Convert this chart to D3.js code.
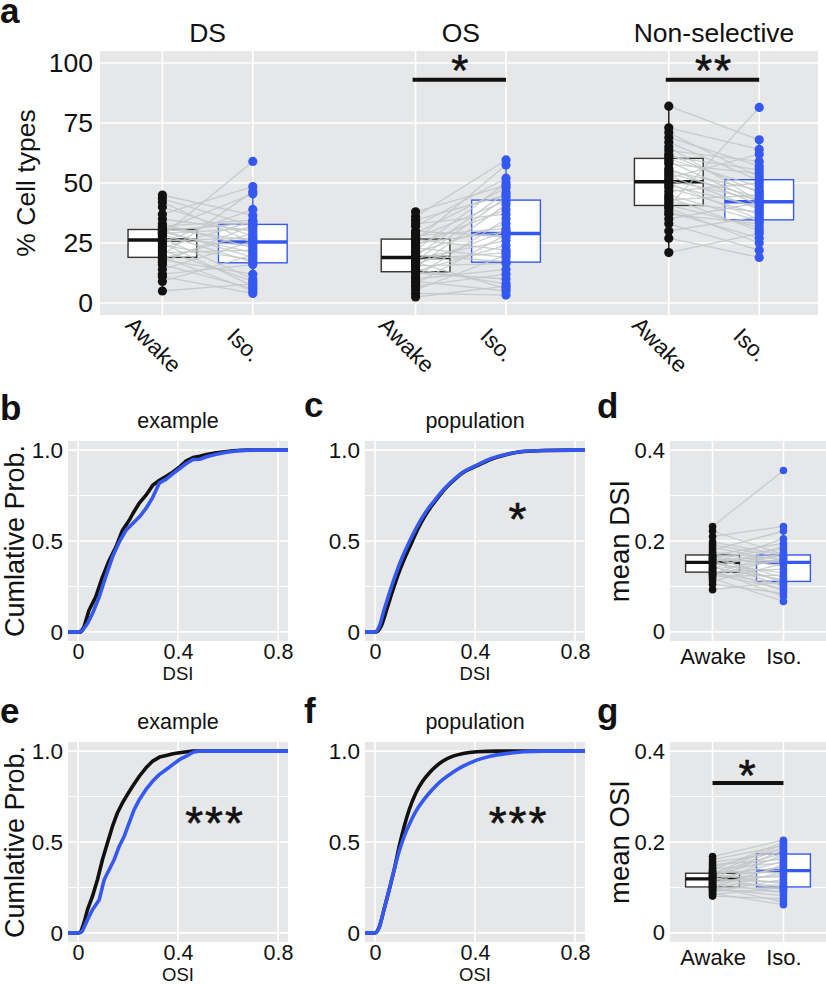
<!DOCTYPE html>
<html><head><meta charset="utf-8">
<script src="https://cdn.jsdelivr.net/npm/d3@7"></script>
<style>
body{margin:0;background:#fff}
text{font-family:"Liberation Sans",Arial,Helvetica,sans-serif;fill:#111}
</style>
</head><body>
<svg id="c" width="826" height="984"></svg>
<script>
// ---------------- DATA ----------------
const facets = ["DS", "OS", "Non-selective"];
const conditions = ["Awake", "Iso."];
const pctTicks = [0, 25, 50, 75, 100];
// % cell types per session (paired Awake / Iso.)
const dsAwake = [5, 9, 11, 12, 14, 16, 17, 18, 18.5, 19.2, 20, 21, 22, 23, 24, 25, 25.5, 26, 26.5, 27, 28, 28.5, 29, 29.5, 30, 30.3, 30.5, 31, 32, 33, 35, 37, 40, 42, 43.5, 45];
const dsIso   = [8, 20, 4, 16, 25.8, 6, 32.5, 12, 29, 5, 46.5, 22, 9, 34, 18, 7, 39, 27, 24, 10, 59, 17, 31, 21, 33.5, 19, 45.5, 26, 34.5, 23, 30, 48.5, 28, 25, 32, 36.5];
const osAwake = [2.5, 4, 5.5, 7, 8, 9, 10, 11, 12.5, 13.2, 14, 15, 15.5, 16, 17, 17.5, 18, 18.5, 19.5, 20, 21, 22, 23, 24, 25, 26, 26.5, 27, 28, 29, 30, 32, 33, 34.5, 36, 38];
const osIso   = [7, 3.3, 20, 12, 28.5, 5, 14, 35, 10, 24, 8, 41, 16.5, 30, 6, 44, 21, 26, 46, 17.2, 33, 50, 19, 39, 29.5, 57.5, 22, 42.5, 31, 48, 27.5, 52, 37, 45, 59.6, 49];
const nsAwake = [21, 27, 30, 33, 35, 37, 38, 39.5, 40.2, 40.8, 42, 43, 44, 45, 46.5, 48, 49, 50, 51, 52, 53, 54, 55, 56, 58, 59, 60, 61, 62, 63.5, 65, 67, 69, 71, 73, 82];
const nsIso   = [29, 19, 36, 22, 41.8, 33, 27, 25, 81.5, 31.5, 38, 45, 30, 34.2, 50, 37, 40, 34.8, 43, 62, 39, 44, 47, 41, 54, 42, 48.5, 55.5, 46, 59, 42.4, 51, 57, 52.5, 64, 68];
const pctSig = ["", "*", "**"];

// mean DSI / OSI per session
const meanTicks = [0, 0.2, 0.4];
const meanTickLabels = ["0", "0.2", "0.4"];
const meanDsiAwake = [0.093, 0.105, 0.112, 0.118, 0.122, 0.125, 0.127, 0.129, 0.130, 0.132, 0.135, 0.138, 0.140, 0.142, 0.145, 0.148, 0.150, 0.152, 0.154, 0.156, 0.158, 0.160, 0.162, 0.164, 0.166, 0.168, 0.169, 0.170, 0.175, 0.180, 0.186, 0.192, 0.198, 0.210, 0.222, 0.232];
const meanDsiIso   = [0.110, 0.085, 0.150, 0.067, 0.125, 0.162, 0.095, 0.175, 0.104, 0.138, 0.078, 0.158, 0.188, 0.115, 0.090, 0.168, 0.130, 0.205, 0.100, 0.1115, 0.166, 0.152, 0.120, 0.182, 0.145, 0.107, 0.195, 0.154, 0.160, 0.222, 0.156, 0.164, 0.169, 0.232, 0.170, 0.355];
const meanOsiAwake = [0.081, 0.084, 0.087, 0.090, 0.093, 0.095, 0.097, 0.099, 0.100, 0.1015, 0.103, 0.105, 0.107, 0.109, 0.111, 0.113, 0.115, 0.118, 0.120, 0.122, 0.123, 0.124, 0.125, 0.126, 0.128, 0.130, 0.131, 0.132, 0.135, 0.138, 0.141, 0.145, 0.150, 0.155, 0.161, 0.168];
const meanOsiIso   = [0.075, 0.100, 0.062, 0.118, 0.092, 0.135, 0.082, 0.150, 0.098, 0.068, 0.147, 0.105, 0.173, 0.088, 0.128, 0.1015, 0.158, 0.112, 0.182, 0.095, 0.139, 0.189, 0.123, 0.168, 0.108, 0.196, 0.143, 0.175, 0.132, 0.200, 0.154, 0.186, 0.162, 0.178, 0.192, 0.204];

// cumulative distributions [index value, cumulative probability]
const cdfTicksX = [0, 0.4, 0.8];
const cdfTickLabelsX = ["0", "0.4", "0.8"];
const cdfTicksY = [0, 0.5, 1.0];
const cdfTickLabelsY = ["0", "0.5", "1.0"];
const dsiExampleAwake = [[-0.04,0],[0,0],[0.011,0],[0.024,0.027],[0.044,0.119],[0.071,0.193],[0.098,0.303],[0.125,0.394],[0.152,0.468],[0.178,0.559],[0.205,0.614],[0.219,0.650],[0.246,0.710],[0.272,0.752],[0.299,0.807],[0.326,0.834],[0.353,0.856],[0.380,0.880],[0.407,0.908],[0.433,0.941],[0.460,0.959],[0.487,0.966],[0.514,0.976],[0.554,0.985],[0.621,0.996],[0.675,1],[0.84,1]];
const dsiExampleIso = [[-0.04,0],[0,0],[0.017,0.006],[0.038,0.046],[0.058,0.101],[0.085,0.193],[0.111,0.303],[0.138,0.413],[0.165,0.495],[0.192,0.559],[0.219,0.596],[0.246,0.633],[0.272,0.679],[0.299,0.740],[0.326,0.820],[0.353,0.840],[0.380,0.871],[0.407,0.899],[0.433,0.926],[0.460,0.948],[0.487,0.950],[0.514,0.963],[0.554,0.977],[0.594,0.988],[0.648,0.998],[0.702,1],[0.84,1]];
const dsiPopAwake = [[-0.04,0],[0,0],[0.005,0],[0.023,0.027],[0.046,0.119],[0.067,0.211],[0.094,0.321],[0.121,0.413],[0.148,0.495],[0.172,0.568],[0.198,0.633],[0.224,0.688],[0.249,0.734],[0.275,0.779],[0.312,0.830],[0.353,0.877],[0.407,0.913],[0.461,0.948],[0.528,0.976],[0.595,0.992],[0.676,0.998],[0.84,1]];
const dsiPopIso = [[-0.04,0],[0,0],[0.016,0.027],[0.036,0.119],[0.057,0.211],[0.084,0.321],[0.110,0.413],[0.137,0.495],[0.164,0.568],[0.191,0.633],[0.218,0.688],[0.245,0.734],[0.272,0.779],[0.312,0.834],[0.353,0.880],[0.407,0.917],[0.461,0.952],[0.528,0.977],[0.595,0.994],[0.676,0.998],[0.84,1]];
const osiExampleAwake = [[-0.04,0],[0,0],[0.011,0.004],[0.024,0.055],[0.038,0.128],[0.058,0.202],[0.078,0.294],[0.098,0.404],[0.118,0.496],[0.138,0.587],[0.158,0.661],[0.178,0.716],[0.198,0.762],[0.219,0.808],[0.246,0.863],[0.272,0.908],[0.299,0.945],[0.326,0.967],[0.353,0.976],[0.380,0.985],[0.420,0.994],[0.460,1],[0.84,1]];
const osiExampleIso = [[-0.04,0],[0,0],[0.017,0.009],[0.038,0.073],[0.058,0.128],[0.085,0.183],[0.105,0.294],[0.125,0.349],[0.145,0.404],[0.165,0.477],[0.185,0.532],[0.205,0.606],[0.225,0.679],[0.246,0.734],[0.272,0.789],[0.299,0.835],[0.326,0.872],[0.353,0.899],[0.380,0.927],[0.407,0.954],[0.433,0.972],[0.460,0.994],[0.487,1],[0.84,1]];
const osiPopAwake = [[-0.04,0],[0,0],[0.016,0.028],[0.036,0.128],[0.057,0.239],[0.077,0.349],[0.097,0.477],[0.117,0.587],[0.137,0.679],[0.164,0.771],[0.191,0.835],[0.218,0.881],[0.245,0.917],[0.272,0.945],[0.312,0.972],[0.353,0.987],[0.407,0.996],[0.488,1],[0.84,1]];
const osiPopIso = [[-0.04,0],[0,0],[0.016,0.028],[0.036,0.128],[0.057,0.239],[0.077,0.349],[0.097,0.450],[0.117,0.532],[0.137,0.596],[0.164,0.670],[0.191,0.725],[0.218,0.771],[0.245,0.811],[0.272,0.844],[0.312,0.884],[0.353,0.917],[0.407,0.950],[0.461,0.972],[0.528,0.987],[0.595,0.996],[0.676,1],[0.84,1]];

// ---------------- STYLE ----------------
const C_AWAKE = "#111111", C_ISO = "#3559f0", C_PAIR = "#c3c7c7", C_BG = "#e6e7e8";
const FONT = "Liberation Sans, Arial, sans-serif";
const svg = d3.select("#c");

function boxStats(v) {
  const s = v.slice().sort(d3.ascending);
  const q1 = d3.quantile(s, 0.25), med = d3.quantile(s, 0.5), q3 = d3.quantile(s, 0.75);
  const iqr = q3 - q1;
  const lo = d3.min(s.filter(d => d >= q1 - 1.5 * iqr)), hi = d3.max(s.filter(d => d <= q3 + 1.5 * iqr));
  return {q1, med, q3, lo, hi};
}

function panelBg(g, x0, x1, y0, y1) {
  g.append("rect").attr("x", x0).attr("y", y0).attr("width", x1 - x0).attr("height", y1 - y0).attr("fill", C_BG);
}
function hGrid(g, y, vals, x0, x1, w) {
  g.selectAll(null).data(vals).join("line")
    .attr("x1", x0).attr("x2", x1).attr("y1", d => y(d)).attr("y2", d => y(d))
    .attr("stroke", "#fff").attr("stroke-width", w);
}
function vGrid(g, x, vals, y0, y1, w) {
  g.selectAll(null).data(vals).join("line")
    .attr("y1", y0).attr("y2", y1).attr("x1", d => x(d)).attr("x2", d => x(d))
    .attr("stroke", "#fff").attr("stroke-width", w);
}
function drawBox(g, x, y, pos, vals, col, halfW, medW) {
  const st = boxStats(vals);
  const cx = x(pos);
  g.append("line").attr("x1", cx).attr("x2", cx).attr("y1", y(st.lo)).attr("y2", y(st.hi))
    .attr("stroke", col).attr("stroke-width", 1.4);
  g.append("rect").attr("x", cx - halfW).attr("width", 2 * halfW)
    .attr("y", y(st.q3)).attr("height", y(st.q1) - y(st.q3))
    .attr("fill", "#fff").attr("stroke", col === C_AWAKE ? "#333" : col).attr("stroke-width", 1.4);
  g.append("line").attr("x1", cx - halfW).attr("x2", cx + halfW).attr("y1", y(st.med)).attr("y2", y(st.med))
    .attr("stroke", col).attr("stroke-width", medW);
}
function pairedPanel(g, x, y, posA, posI, a, b, boxHalf, r, medW) {
  drawBox(g, x, y, posA, a, C_AWAKE, boxHalf, medW);
  drawBox(g, x, y, posI, b, C_ISO, boxHalf, medW);
  g.selectAll(null).data(d3.range(a.length)).join("line")
    .attr("x1", x(posA)).attr("x2", x(posI)).attr("y1", i => y(a[i])).attr("y2", i => y(b[i]))
    .attr("stroke", C_PAIR).attr("stroke-width", 1.3).attr("opacity", 0.85);
  g.selectAll(null).data(a).join("circle").attr("cx", x(posA)).attr("cy", d => y(d)).attr("r", r).attr("fill", C_AWAKE);
  g.selectAll(null).data(b).join("circle").attr("cx", x(posI)).attr("cy", d => y(d)).attr("r", r).attr("fill", C_ISO);
}
function starText(g, cx, cy, s, fs) {
  g.append("text").attr("x", cx).attr("y", cy + 0.56 * fs).attr("text-anchor", "middle")
    .attr("font-size", fs).attr("letter-spacing", 2).attr("stroke", "#111").attr("stroke-width", 0.6).text(s);
}
function panelLabel(x, y, s) {
  svg.append("text").attr("x", x).attr("y", y).attr("font-size", 35).attr("font-weight", "bold").text(s);
}
function styleAxis(sel, fs) {
  sel.select(".domain").remove();
  sel.selectAll("text").attr("font-size", fs).attr("font-family", FONT).attr("fill", "#111");
}

// ---------------- PANEL a ----------------
{
  const X0 = 100, X1 = 818, Y0 = 51, Y1 = 315;
  const x = d3.scaleLinear().domain([0.31, 8.25]).range([X0, X1]);
  const y = d3.scaleLinear().domain([-5, 105]).range([Y1, Y0]);
  const groupPos = [[1, 2], [3.8, 4.8], [6.6, 7.6]];
  const sets = [[dsAwake, dsIso], [osAwake, osIso], [nsAwake, nsIso]];
  const g = svg.append("g");
  panelBg(g, X0, X1, Y0, Y1);
  hGrid(g, y, pctTicks, X0, X1, 1.6);
  vGrid(g, x, groupPos.flat(), Y0, Y1, 1.6);
  const bw = (x(1.38) - x(1));
  groupPos.forEach((p, k) => pairedPanel(g, x, y, p[0], p[1], sets[k][0], sets[k][1], bw, 4.6, 3.5));
  const ya = svg.append("g").attr("transform", `translate(${X0},0)`)
    .call(d3.axisLeft(y).tickValues(pctTicks).tickSize(0).tickPadding(7));
  styleAxis(ya, 26.5);
  svg.append("text").attr("transform", `translate(35,${(Y0 + Y1) / 2}) rotate(-90)`)
    .attr("text-anchor", "middle").attr("font-size", 26.5).text("% Cell types");
  groupPos.forEach((p, k) => {
    const mid = (x(p[0]) + x(p[1])) / 2;
    svg.append("text").attr("x", mid).attr("y", 42).attr("text-anchor", "middle").attr("font-size", 26.5).text(facets[k]);
    p.forEach((pos, j) => {
      const cx = x(pos) - 9, cy = 345;
      svg.append("text").attr("transform", `translate(${cx},${cy}) rotate(45)`)
        .attr("text-anchor", "middle").attr("dominant-baseline", "central").attr("font-size", 22.5).text(conditions[j]);
    });
    if (pctSig[k]) {
      g.append("line").attr("x1", x(p[0]) - 3).attr("x2", x(p[1])).attr("y1", y(93)).attr("y2", y(93))
        .attr("stroke", "#111").attr("stroke-width", 4);
      starText(svg, mid, y(100.5), pctSig[k], 44);
    }
  });
  panelLabel(0, 23, "a");
}

// ---------------- CDF PANELS ----------------
function cdfPanel(X0, X1, Y0, Y1, title, xTitle, awake, iso, sig, sigPos, showY, curve) {
  const x = d3.scaleLinear().domain([-0.04, 0.84]).range([X0, X1]);
  const y = d3.scaleLinear().domain([-0.05, 1.05]).range([Y1, Y0]);
  const g = svg.append("g");
  panelBg(g, X0, X1, Y0, Y1);
  hGrid(g, y, [0.25, 0.75], X0, X1, 1.0);
  hGrid(g, y, cdfTicksY, X0, X1, 1.6);
  vGrid(g, x, cdfTicksX, Y0, Y1, 1.6);
  const clipId = "clip" + Math.round(X0) + "_" + Math.round(Y0);
  svg.append("clipPath").attr("id", clipId).append("rect").attr("x", X0).attr("y", Y0 - 3).attr("width", X1 - X0).attr("height", Y1 - Y0 + 6);
  const line = d3.line().x(d => x(d[0])).y(d => y(d[1])).curve(curve);
  const lg = g.append("g").attr("clip-path", `url(#${clipId})`);
  lg.append("path").attr("d", line(awake)).attr("fill", "none").attr("stroke", C_AWAKE).attr("stroke-width", 3.6).attr("stroke-linejoin", "round");
  lg.append("path").attr("d", line(iso)).attr("fill", "none").attr("stroke", C_ISO).attr("stroke-width", 3.6).attr("stroke-linejoin", "round");
  if (sig) starText(svg, x(sigPos[0]), y(sigPos[1]), sig, 46);
  const xa = svg.append("g").attr("transform", `translate(0,${Y1})`)
    .call(d3.axisBottom(x).tickValues(cdfTicksX).tickFormat((d, i) => cdfTickLabelsX[i]).tickSize(0).tickPadding(3));
  styleAxis(xa, 21.5);
  const ya = svg.append("g").attr("transform", `translate(${X0},0)`)
    .call(d3.axisLeft(y).tickValues(cdfTicksY).tickFormat((d, i) => cdfTickLabelsY[i]).tickSize(0).tickPadding(5));
  styleAxis(ya, 22.5);
  svg.append("text").attr("x", (X0 + X1) / 2).attr("y", Y0 - 13).attr("text-anchor", "middle").attr("font-size", 21.5).text(title);
  svg.append("text").attr("x", (X0 + X1) / 2).attr("y", Y1 + 39).attr("text-anchor", "middle").attr("font-size", 18.5).text(xTitle);
  if (showY) svg.append("text").attr("transform", `translate(24,${(Y0 + Y1) / 2}) rotate(-90)`)
    .attr("text-anchor", "middle").attr("font-size", 27).text("Cumlative Prob.");
}

function meanPanel(X0, X1, Y0, Y1, yTitle, a, b, sig) {
  const x = d3.scaleLinear().domain([0.4, 2.6]).range([X0, X1]);
  const y = d3.scaleLinear().domain([-0.02, 0.42]).range([Y1, Y0]);
  const g = svg.append("g");
  panelBg(g, X0, X1, Y0, Y1);
  hGrid(g, y, [0.1, 0.3], X0, X1, 1.0);
  hGrid(g, y, meanTicks, X0, X1, 1.6);
  vGrid(g, x, [1, 2], Y0, Y1, 1.6);
  pairedPanel(g, x, y, 1, 2, a, b, x(1.38) - x(1), 3.8, 3.2);
  if (sig) {
    g.append("line").attr("x1", x(1)).attr("x2", x(2)).attr("y1", y(0.33)).attr("y2", y(0.33)).attr("stroke", "#111").attr("stroke-width", 4);
    starText(svg, x(1.5), y(0.366), sig, 44);
  }
  const xa = svg.append("g").attr("transform", `translate(0,${Y1})`)
    .call(d3.axisBottom(x).tickValues([1, 2]).tickFormat((d, i) => conditions[i]).tickSize(0).tickPadding(7));
  styleAxis(xa, 22);
  const ya = svg.append("g").attr("transform", `translate(${X0},0)`)
    .call(d3.axisLeft(y).tickValues(meanTicks).tickFormat((d, i) => meanTickLabels[i]).tickSize(0).tickPadding(5));
  styleAxis(ya, 22);
  svg.append("text").attr("transform", `translate(629,${(Y0 + Y1) / 2}) rotate(-90)`)
    .attr("text-anchor", "middle").attr("font-size", 27.5).text(yTitle);
}

const R1 = [441, 641], R2 = [742, 942];
cdfPanel(68, 288, R1[0], R1[1], "example", "DSI", dsiExampleAwake, dsiExampleIso, "", null, true, d3.curveLinear);
cdfPanel(365, 585, R1[0], R1[1], "population", "DSI", dsiPopAwake, dsiPopIso, "*", [0.574, 0.675], false, d3.curveMonotoneX);
meanPanel(670, 826, R1[0], R1[1], "mean DSI", meanDsiAwake, meanDsiIso, "");
cdfPanel(68, 288, R2[0], R2[1], "example", "OSI", osiExampleAwake, osiExampleIso, "***", [0.548, 0.657], true, d3.curveLinear);
cdfPanel(365, 585, R2[0], R2[1], "population", "OSI", osiPopAwake, osiPopIso, "***", [0.574, 0.657], false, d3.curveMonotoneX);
meanPanel(670, 826, R2[0], R2[1], "mean OSI", meanOsiAwake, meanOsiIso, "*");

panelLabel(0, 420, "b");
panelLabel(304, 417, "c");
panelLabel(597, 418, "d");
panelLabel(0, 723, "e");
panelLabel(304, 723, "f");
panelLabel(597, 723, "g");
</script>
</body></html>
